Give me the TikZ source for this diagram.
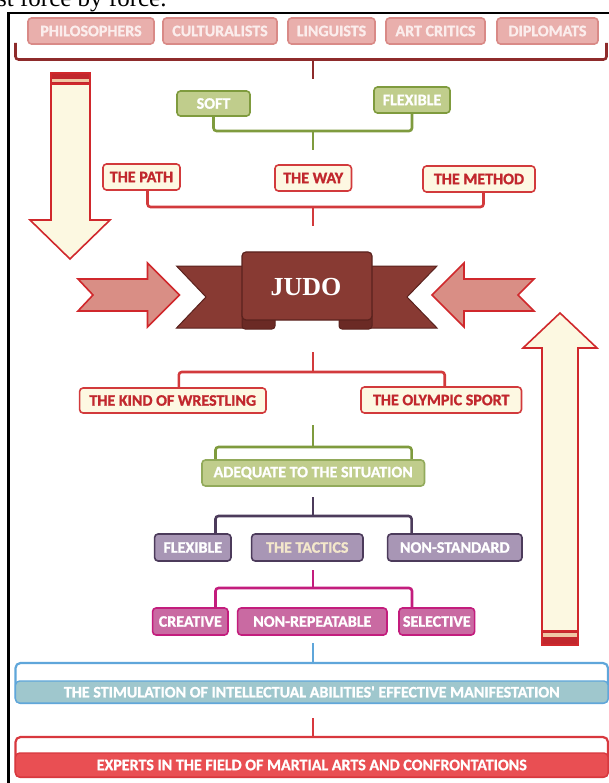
\documentclass[tikz,border=0pt]{standalone}
\usepackage{fontspec}
\newfontfamily\carlito[BoldFeatures={FakeBold=1.2}]{Carlito}
\newfontfamily\tnr{Liberation Serif}
\definecolor{pinkF}{HTML}{E9AFAC}
\definecolor{pinkB}{HTML}{D98A87}
\definecolor{pinkT}{HTML}{FBEDEC}
\definecolor{darkR}{HTML}{8E2B2B}
\definecolor{grnF}{HTML}{C0CD8C}
\definecolor{grnB}{HTML}{7F9B3E}
\definecolor{cream}{HTML}{FDF8E2}
\definecolor{redB}{HTML}{D23A3C}
\definecolor{redT}{HTML}{C1272D}
\definecolor{judoF}{HTML}{883A33}
\definecolor{judoD}{HTML}{5A221E}
\definecolor{judoFold}{HTML}{6B2A25}
\definecolor{arrF}{HTML}{D98E85}
\definecolor{arrB}{HTML}{D0282C}
\definecolor{purF}{HTML}{A896B5}
\definecolor{purB}{HTML}{4C3B5B}
\definecolor{magF}{HTML}{C96AA2}
\definecolor{magB}{HTML}{C31D7D}
\definecolor{bluB}{HTML}{5FA6DA}
\definecolor{tealF}{HTML}{9FC7CD}
\definecolor{botF}{HTML}{E94F53}
\definecolor{botB}{HTML}{D8383E}
\definecolor{peach}{HTML}{F0C7A4}
\definecolor{tacT}{HTML}{F3E7CB}
\definecolor{bigF}{HTML}{FCF8E1}
\tikzset{
  box/.style={rounded corners=3.5pt, line width=1.6pt, inner sep=0pt,
    font=\carlito\bfseries\fontsize{16}{16}\selectfont},
  pinkbox/.style={box, draw=pinkB, fill=pinkF, text=pinkT},
  grnbox/.style={box, draw=grnB, fill=grnF, text=white},
  redbox/.style={box, draw=redB, fill=cream, text=redT},
  purbox/.style={box, draw=purB, fill=purF, text=white},
  magbox/.style={box, draw=magB, fill=magF, text=white},
  brk/.style={line width=2.6pt, rounded corners=3pt},
  tick/.style={line width=2.6pt},
  bigarrow/.style={draw=arrB, fill=bigF, line width=1.6pt, line join=miter},
  smallarrow/.style={draw=arrB, fill=arrF, line width=1.6pt, line join=miter},
}
\begin{document}
\begin{tikzpicture}[x=1pt,y=-1pt]
\useasboundingbox (0,0) rectangle (609,783);
\fill[white] (0,0) rectangle (609,783);
\begin{scope}
\clip (0,0) rectangle (609,783);
\node[anchor=base west, inner sep=0pt, font=\tnr\fontsize{25}{25}\selectfont] (frag) at (-3,6.5) {st force by force.};
\draw[line width=2.2pt] (8.5,800) -- (8.5,13) -- (640,13);
\end{scope}

% ---- top row
\node[pinkbox, minimum width=126, minimum height=26] (phil) at (91,31) {PHILOSOPHERS};
\node[pinkbox, minimum width=114, minimum height=26] (cult) at (220,31) {CULTURALISTS};
\node[pinkbox, minimum width=87, minimum height=26] (ling) at (331.5,31) {LINGUISTS};
\node[pinkbox, minimum width=99, minimum height=26] (art) at (435.5,31) {ART CRITICS};
\node[pinkbox, minimum width=101, minimum height=26] (dipl) at (547.5,31) {DIPLOMATS};
\coordinate (tbL) at (15.5,43);
\coordinate (tbR) at (606.5,43);
\coordinate (tbM) at (313,59.5);
\coordinate (tbT) at (313,79);
\draw[brk, draw=darkR] (tbL) |- (tbM) -| (tbR);
\draw[tick, draw=darkR] (tbM) -- (tbT);

% ---- big arrows
\draw[bigarrow] (51,73) -- (90,73) -- (90,220) -- (110,220) -- (70,259) -- (30,220) -- (51,220) -- cycle;
\fill[redT] (51,73) rectangle (90,79);
\fill[peach] (51,79) rectangle (90,82);
\fill[redT] (51,82) rectangle (90,84);
\draw[draw=arrB, line width=1.6pt] (51,73) rectangle (90,84);

\draw[bigarrow] (542,645) -- (542,348) -- (523,348) -- (560,313) -- (597,348) -- (578,348) -- (578,645) -- cycle;
\fill[redT] (542,631) rectangle (578,633);
\fill[peach] (542,633) rectangle (578,637);
\fill[redT] (542,637) rectangle (578,645);
\draw[draw=arrB, line width=1.6pt] (542,631) rectangle (578,645);

% ---- green top
\node[grnbox, minimum width=73, minimum height=25] (soft) at (213.5,103.5) {SOFT};
\node[grnbox, minimum width=76, minimum height=26] (flex) at (412,100) {FLEXIBLE};
\coordinate (gM) at (313,131);
\coordinate (gT) at (313,150);
\draw[brk, draw=grnB] (soft.south) |- (gM) -| (flex.south);
\draw[tick, draw=grnB] (gM) -- (gT);

% ---- path / way / method
\node[redbox, minimum width=77, minimum height=26] (path) at (141.5,177) {THE PATH};
\node[redbox, minimum width=76.5, minimum height=26] (way) at (313.2,178) {THE WAY};
\node[redbox, minimum width=112, minimum height=26] (method) at (479,179) {THE METHOD};
\coordinate (rM) at (313,207);
\coordinate (rT) at (313,226);
\draw[brk, draw=redB] ([xshift=6]path.south) |- (rM) -| ([xshift=4.5]method.south);
\draw[tick, draw=redB] (rM) -- (rT);

% ---- side small arrows
\draw[smallarrow] (78,279) -- (147.5,279) -- (147.5,263) -- (179.5,295) -- (147.5,327) -- (147.5,311) -- (78,311) -- (93,295) -- cycle;
\draw[smallarrow] (534,279) -- (464,279) -- (464,263) -- (432,295) -- (464,327) -- (464,311) -- (534,311) -- (518,295) -- cycle;

% ---- JUDO ribbon
\draw[fill=judoF, draw=judoD, line width=1pt, line join=miter] (176.5,266) -- (262,266) -- (262,328) -- (176.5,328) -- (206,297) -- cycle;
\draw[fill=judoF, draw=judoD, line width=1pt, line join=miter] (437,266) -- (352,266) -- (352,328) -- (437,328) -- (407,297) -- cycle;
\draw[fill=judoFold, draw=judoD, line width=1pt, rounded corners=3pt] (242,310) -- (242,329) -- (275,329) -- (275,310);
\draw[fill=judoFold, draw=judoD, line width=1pt, rounded corners=3pt] (339,310) -- (339,329) -- (372,329) -- (372,310);
\draw[fill=judoF, draw=judoD, line width=1.2pt, rounded corners=4pt] (242,252) rectangle (372,320);
\node[text=white, font=\tnr\bfseries\fontsize{26}{26}\selectfont] (judo) at (306,287) {JUDO};

% ---- kind / olympic
\node[redbox, minimum width=186.4, minimum height=25] (kind) at (172.8,400.5) {THE KIND OF WRESTLING};
\node[redbox, minimum width=160.5, minimum height=26] (olymp) at (441.2,400) {THE OLYMPIC SPORT};
\coordinate (jT) at (313,352);
\coordinate (jM) at (313,372);
\draw[tick, draw=redB] (jT) -- (jM);
\draw[brk, draw=redB] ([xshift=6]kind.north) |- (jM) -| ([xshift=3.5]olymp.north);

% ---- adequate
\node[box, draw=grnB!85!white, fill=grnF, text=white, minimum width=222.5, minimum height=26] (adeq) at (313.2,473) {ADEQUATE TO THE SITUATION};
\coordinate (aT) at (313,425);
\coordinate (aM) at (313,447);
\draw[tick, draw=grnB] (aT) -- (aM);
\draw[brk, draw=grnB] ([xshift=-97.7]adeq.north) |- (aM) -| ([xshift=98.4]adeq.north);

% ---- purple row
\node[purbox, minimum width=76.4, minimum height=27] (pflex) at (192.8,547.5) {FLEXIBLE};
\node[purbox, text=tacT, minimum width=111.3, minimum height=27] (tact) at (307.3,547.5) {THE TACTICS};
\node[purbox, minimum width=134.4, minimum height=27] (nonstd) at (454.8,547.5) {NON-STANDARD};
\coordinate (pT) at (313,497);
\coordinate (pM) at (313,516);
\draw[tick, draw=purB] (pT) -- (pM);
\draw[brk, draw=purB] ([xshift=22.7]pflex.north) |- (pM) -| ([xshift=-43.2]nonstd.north);

% ---- magenta row
\node[magbox, minimum width=75.4, minimum height=27] (creat) at (190.3,621.5) {CREATIVE};
\node[magbox, minimum width=149.3, minimum height=27] (nonrep) at (312.3,621.5) {NON-REPEATABLE};
\node[magbox, minimum width=75.6, minimum height=27] (selec) at (436.8,621.5) {SELECTIVE};
\coordinate (mT) at (313,570);
\coordinate (mM) at (313,588);
\draw[tick, draw=magB] (mT) -- (mM);
\draw[brk, draw=magB] ([xshift=25.2]creat.north) |- (mM) -| ([xshift=-24.8]selec.north);

% ---- blue bar
\draw[draw=bluB, fill=white, line width=2.2pt, rounded corners=5pt] (15.5,663) rectangle (608,703);
\node[box, draw=bluB, fill=tealF, text=white, line width=1.4pt, rounded corners=4pt, minimum width=592.5, minimum height=22] (stim) at (311.75,692) {THE STIMULATION OF INTELLECTUAL ABILITIES' EFFECTIVE MANIFESTATION};
\coordinate (bT) at (313,643);
\coordinate (bM) at (313,663);
\draw[tick, draw=bluB] (bT) -- (bM);

% ---- red bar
\draw[draw=botB, fill=white, line width=2.2pt, rounded corners=5pt] (15.5,737) rectangle (608,777);
\node[box, draw=botB, fill=botF, text=white, line width=1.4pt, rounded corners=4pt, minimum width=592.5, minimum height=24] (expert) at (311.75,765) {EXPERTS IN THE FIELD OF MARTIAL ARTS AND CONFRONTATIONS};
\coordinate (eT) at (313,718);
\coordinate (eM) at (313,737);
\draw[tick, draw=botB] (eT) -- (eM);
\end{tikzpicture}
\end{document}
